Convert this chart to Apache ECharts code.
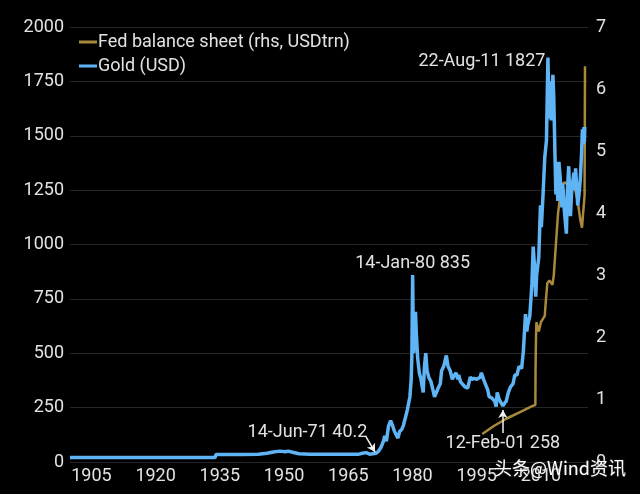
<!DOCTYPE html>
<html>
<head>
<meta charset="utf-8">
<script src="https://cdn.jsdelivr.net/npm/echarts@6/dist/echarts.min.js"></script>
<style>
html,body{margin:0;padding:0;background:#000;}
#chart{width:640px;height:494px;}
</style>
</head>
<body>
<div id="chart"></div>
<script>
// ---- data ----
const goldYears = [1900,1933.9,1934.1,1940,1944,1946,1947.5,1949,1950.3,1951,1952,1953.5,1956,1960,1965,1967.5,1968.3,1969.2,1970,1971.45,
  1972,1972.6,1973.3,1973.5,1973.9,1974.4,1974.9,1975.3,1975.8,1976.6,1977,1977.5,1977.9,1978.3,1978.8,1979.1,1979.4,1979.7,1979.85,1980.04,
  1980.15,1980.25,1980.5,1980.7,1980.9,1981.2,1981.6,1982,1982.5,1982.8,1983.1,1983.4,1983.8,1984.3,1984.8,1985.15,1985.6,1986,1986.5,1986.8,
  1987.3,1987.9,1988.3,1988.8,1989.3,1989.8,1990.2,1990.6,1990.8,1991.2,1991.6,1992.3,1992.9,1993.5,1993.9,1994.4,1995,1995.8,1996.1,1996.6,
  1997.2,1997.6,1997.9,1998.5,1999.2,1999.55,1999.8,2000.2,2000.6,2001.12,2001.5,2001.9,2002.4,2002.9,2003.5,2003.9,2004.4,2004.9,2005.5,2005.9,
  2006.4,2006.7,2006.9,2007.4,2007.9,2008.2,2008.5,2008.8,2009,2009.5,2009.9,2010.1,2010.5,2010.9,2011.3,2011.64,2011.7,2011.95,2012.2,2012.4,
  2012.8,2013,2013.3,2013.5,2013.7,2013.95,2014.2,2014.5,2014.9,2015.1,2015.5,2015.95,2016.2,2016.5,2016.9,2017.2,2017.7,2017.9,2018.1,2018.6,
  2018.9,2019.2,2019.5,2019.7,2019.9,2020.05,2020.15,2020.25];
const goldValues = [20.67,20.67,35,35,36,40,46,50,47,50,45,38,35.5,35.5,35.2,36,40,43,36,40.2,
  48,65,100,120,95,165,190,170,140,110,140,150,170,200,240,235,300,380,480,860,
  650,500,620,690,590,480,410,380,320,440,500,420,390,370,330,300,320,340,360,420,
  440,490,440,420,380,400,410,380,400,370,360,345,340,390,380,385,380,390,410,380,
  350,330,300,295,280,255,320,290,275,258,270,280,320,345,360,400,400,440,430,510,
  680,600,630,670,820,990,900,760,860,940,1180,1080,1230,1400,1480,1860,1800,1580,1750,1570,
  1780,1680,1400,1230,1380,1200,1380,1310,1170,1280,1150,1050,1250,1360,1130,1250,1330,1250,1350,1180,
  1230,1300,1420,1530,1460,1540,1470,1540];

const fedYears = [1996.3,1999,2002,2005,2007.7,2008.7,2008.75,2008.85,2008.95,2009.5,2010,2010.9,2011.1,2011.5,2012,2012.7,2013,2013.5,2014,2014.8,
  2015.5,2016.5,2017.7,2018.3,2018.8,2019.2,2019.6,2019.8,2020.1,2020.2,2020.3];
const fedValues = [0.45,0.58,0.70,0.80,0.89,0.92,1.5,2.0,2.25,2.1,2.25,2.35,2.55,2.88,2.92,2.85,3.0,3.5,4.0,4.45,
  4.5,4.45,4.45,4.3,4.1,3.9,3.77,3.95,4.2,4.3,6.37];

const xTickLabels = [1905,1920,1935,1950,1965,1980,1995,2010];
const leftTicks = [0,250,500,750,1000,1250,1500,1750,2000];
const rightTicks = [0,1,2,3,4,5,6,7];

const notes = [
  {year:1980.04, value:860, text:'14-Jan-80 835'},
  {year:2011.64, value:1860, text:'22-Aug-11 1827'},
  {year:1971.45, value:40.2, text:'14-Jun-71 40.2'},
  {year:2001.12, value:258, text:'12-Feb-01 258'}
];
const arrows = [
  {from:[1969.15,115], to:[1971.25,46]},
  {from:[2001.12,133], to:[2001.12,239]}
];

// ---- chart ----
const FONT = 'Roboto';
const TXT = '#e2e2e2';
const gold = goldYears.map((y,i)=>[y,goldValues[i]]);
const fed = fedYears.map((y,i)=>[y,fedValues[i]]);

const labelPos = [
  {position:'top', distance:2, offset:[0,0]},
  {position:'left', distance:2, offset:[0,4]},
  {position:'left', distance:8, offset:[0,-21]},
  {position:'bottom', distance:28, offset:[0,0]}
];

const chart = echarts.init(document.getElementById('chart'), null, {renderer:'canvas'});
chart.setOption({
  backgroundColor:'#000',
  animation:false,
  textStyle:{fontFamily:FONT},
  grid:{left:70, right:52, top:27, bottom:32, containLabel:false},
  legend:{
    orient:'vertical', left:74, top:28, itemGap:6,
    itemWidth:18, itemHeight:3, icon:'rect',
    textStyle:{color:TXT, fontSize:18, fontFamily:FONT, padding:[0,0,0,-4]},
    data:['Fed balance sheet (rhs, USDtrn)','Gold (USD)']
  },
  xAxis:{
    type:'value', min:1900, max:2021, interval:5,
    axisLine:{show:false}, axisTick:{show:false}, splitLine:{show:false},
    axisLabel:{color:TXT, fontSize:18, fontFamily:FONT, margin:5, showMaxLabel:false,
      formatter:v=> xTickLabels.indexOf(Math.round(v))>=0 && Math.abs(v-Math.round(v))<1e-6 ? String(Math.round(v)) : ''}
  },
  yAxis:[
    {type:'value', min:leftTicks[0], max:leftTicks[leftTicks.length-1], interval:leftTicks[1]-leftTicks[0],
     axisLine:{show:false}, axisTick:{show:false},
     splitLine:{lineStyle:{color:'#262626', width:1}},
     axisLabel:{color:TXT, fontSize:18, fontFamily:FONT, margin:6, formatter:v=>String(v)}},
    {type:'value', min:rightTicks[0], max:rightTicks[rightTicks.length-1], interval:1, position:'right',
     axisLine:{show:false}, axisTick:{show:false}, splitLine:{show:false},
     axisLabel:{color:TXT, fontSize:18, fontFamily:FONT, margin:8, formatter:v=>String(v)}}
  ],
  series:[
    {name:'Fed balance sheet (rhs, USDtrn)', type:'line', yAxisIndex:1, data:fed,
     showSymbol:false, symbol:'none', color:'#a98a3c', lineStyle:{width:2.5, color:'#a98a3c'}, z:2},
    {name:'Gold (USD)', type:'line', yAxisIndex:0, data:gold,
     showSymbol:false, symbol:'none', color:'#5eb4f4', lineStyle:{width:3.5, color:'#5eb4f4'}, z:3,
     markPoint:{
       silent:true, symbol:'circle', symbolSize:1, itemStyle:{color:'rgba(0,0,0,0)'},
       data: notes.map((n,i)=>({coord:[n.year,n.value], value:n.text,
         label:{show:true, formatter:n.text, color:TXT, fontSize:18, fontFamily:FONT,
           position:labelPos[i].position, distance:labelPos[i].distance, offset:labelPos[i].offset}}))
     },
     markLine:{
       silent:true, symbol:['none','arrow'], symbolSize:[7,8],
       label:{show:false}, lineStyle:{color:'#f0f0f0', width:1.5, type:'solid'},
       data: arrows.map(a=>[{coord:a.from},{coord:a.to}])
     }}
  ],
  graphic:[
    {type:'text', right:14, bottom:17, z:100,
     style:{text:'头条@Wind资讯', fill:'#ffffff', fontSize:18, fontFamily:'Noto Sans CJK SC',
       textShadowColor:'rgba(80,80,80,0.9)', textShadowBlur:2}}
  ]
});
</script>
</body>
</html>
